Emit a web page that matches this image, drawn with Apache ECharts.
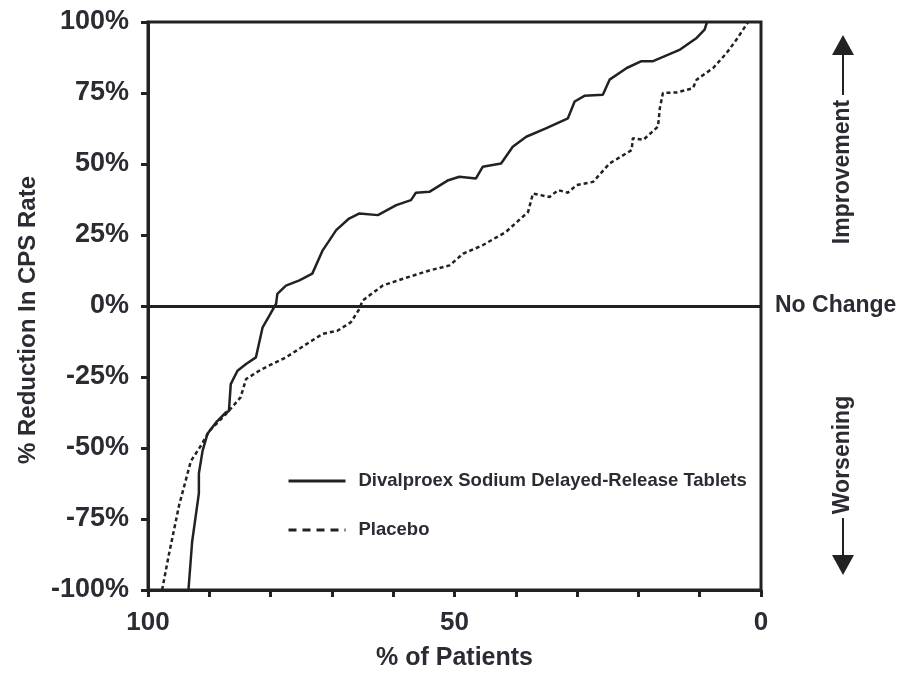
<!DOCTYPE html>
<html><head><meta charset="utf-8">
<script src="https://cdn.jsdelivr.net/npm/echarts@6/dist/echarts.min.js"></script>
<style>html,body{margin:0;padding:0;background:#fff}#c{width:899px;height:675px}</style>
</head><body><div id="c"></div>
<script>
// % of patients (x) and % reduction in CPS rate (y)
const divalproexX = [93.4,92.8,91.7,91.7,91.1,90.3,88.9,87.3,86.8,86.5,85.4,84.0,82.4,81.3,80.2,79.1,78.9,77.5,75.3,73.2,71.5,69.3,67.2,65.5,62.5,59.5,57.1,56.3,54.1,51.0,49.2,46.5,45.4,42.4,40.5,38.3,35.0,31.5,30.4,28.8,25.8,24.7,21.9,19.5,17.6,13.2,10.5,9.2,8.8];
const divalproexY = [-100,-83,-66,-59,-51,-45,-41,-37.5,-37,-27.5,-22.8,-20.4,-18.1,-7.5,-3.4,0.8,4.3,7.2,9.0,11.4,19.6,26.7,30.8,32.6,32.0,35.5,37.3,39.9,40.2,44.3,45.5,44.9,49.0,50.2,56.1,59.6,62.6,66.1,72.0,74.0,74.4,79.7,83.8,86.2,86.2,90.3,94.4,97.3,100];
const placeboX = [97.7,96.6,94.9,93.0,91.4,90.0,87.3,84.9,84.0,81.4,77.5,73.7,71.5,69.1,66.9,65.5,65.0,61.7,58.4,54.1,50.8,48.6,45.4,41.6,38.0,37.2,34.5,33.1,31.5,30.1,27.4,24.7,21.1,20.9,19.2,16.8,16.5,16.0,13.8,11.1,10.5,7.8,5.6,4.0,2.1];
const placeboY = [-100,-87.6,-69.9,-54.6,-49.3,-44,-38.1,-32.2,-25.7,-22.2,-18.1,-12.8,-9.8,-8.7,-5.7,-1.0,1.9,7.2,9.6,12.5,14.3,18.4,21.4,26.1,33.1,39.6,38.4,40.8,39.9,42.6,43.7,50.2,54.9,59.1,58.5,63.2,69.7,75.0,75.2,76.7,79.7,83.8,89.1,93.8,100];
const xTickLabels = [100, 50, 0];
const yTickValues = [-100,-75,-50,-25,0,25,50,75,100];
const seriesNames = ['Divalproex Sodium Delayed-Release Tablets', 'Placebo'];

const zip = (a, b) => a.map((v, i) => [v, b[i]]);
const INK = '#222';
const TXT = '#2b2b33';
const FONT = '"Liberation Sans",Arial,Helvetica,sans-serif';
const CLEAR = {color: 'rgba(0,0,0,0)', borderColor: 'rgba(0,0,0,0)', borderWidth: 0};

const chart = echarts.init(document.getElementById('c'), null, {renderer: 'canvas'});
chart.setOption({
  animation: false,
  backgroundColor: '#fff',
  grid: {left: 148, right: 138, top: 22, bottom: 85, show: true, borderColor: INK, borderWidth: 3,
    containLabel: false, outerBoundsMode: 'none'},
  xAxis: {
    type: 'value', min: 0, max: 100, interval: 10, inverse: true,
    axisLine: {show: true, onZero: false, lineStyle: {color: INK, width: 3}},
    axisTick: {show: true, inside: false, length: 7, lineStyle: {color: INK, width: 3}},
    splitLine: {show: false},
    axisLabel: {
      margin: 20, fontSize: 26, fontWeight: 'bold', color: TXT, fontFamily: FONT,
      formatter: v => (xTickLabels.indexOf(v) >= 0 ? String(v) : '')
    },
    name: '% of Patients', nameLocation: 'middle', nameGap: 56,
    nameTextStyle: {fontSize: 25, fontWeight: 'bold', color: TXT, fontFamily: FONT}
  },
  yAxis: {
    type: 'value', min: -100, max: 100, interval: 25,
    axisLine: {show: true, onZero: false, lineStyle: {color: INK, width: 3}},
    axisTick: {show: true, inside: false, length: 7, lineStyle: {color: INK, width: 3}},
    splitLine: {show: false},
    axisLabel: {
      margin: 19, fontSize: 27, fontWeight: 'bold', color: TXT, fontFamily: FONT,
      formatter: v => (yTickValues.indexOf(v) >= 0 ? v + '%' : '')
    },
    name: '% Reduction In CPS Rate', nameLocation: 'middle', nameGap: 101, nameRotate: 90,
    nameTextStyle: {fontSize: 24, fontWeight: 'bold', color: TXT, fontFamily: FONT, padding: [0, 28, 0, 0]}
  },
  legend: {
    orient: 'vertical', left: 287, top: 471, padding: 0, itemWidth: 57, itemHeight: 14, itemGap: 29,
    itemStyle: CLEAR,
    textStyle: {fontSize: 18.5, lineHeight: 20, fontWeight: 'bold', color: TXT, fontFamily: FONT, padding: [0, 0, 0, 8]},
    data: [
      {name: seriesNames[0], itemStyle: CLEAR, lineStyle: {width: 3, type: 'solid', color: INK}},
      {name: seriesNames[1], itemStyle: CLEAR, lineStyle: {width: 3, type: [8, 6], color: INK}}
    ]
  },
  series: [
    {
      name: seriesNames[0], type: 'line', data: zip(divalproexX, divalproexY),
      symbol: 'none', showSymbol: false,
      lineStyle: {color: INK, width: 2.5}, itemStyle: {color: INK},
      markLine: {
        silent: true, symbol: 'none', animation: false,
        lineStyle: {color: INK, width: 3, type: 'solid'},
        label: {show: true, position: 'start', formatter: 'No Change', distance: 14,
          fontSize: 23, fontWeight: 'bold', color: TXT, fontFamily: FONT},
        data: [{yAxis: 0}]
      }
    },
    {
      name: seriesNames[1], type: 'line', data: zip(placeboX, placeboY),
      symbol: 'none', showSymbol: false,
      lineStyle: {color: INK, width: 2.5, type: [4, 3]}, itemStyle: {color: INK}
    }
  ],
  graphic: [
    {type: 'text', x: 843, y: 172, rotation: Math.PI / 2,
      style: {text: 'Improvement', align: 'center', verticalAlign: 'middle', fontSize: 23, fontWeight: 'bold', fill: TXT, fontFamily: FONT}},
    {type: 'line', shape: {x1: 843, y1: 53, x2: 843, y2: 95}, style: {stroke: INK, lineWidth: 2}},
    {type: 'polygon', shape: {points: [[843, 35], [832, 55], [854, 55]]}, style: {fill: INK}},
    {type: 'text', x: 843, y: 455, rotation: Math.PI / 2,
      style: {text: 'Worsening', align: 'center', verticalAlign: 'middle', fontSize: 23, fontWeight: 'bold', fill: TXT, fontFamily: FONT}},
    {type: 'line', shape: {x1: 843, y1: 518, x2: 843, y2: 558}, style: {stroke: INK, lineWidth: 2}},
    {type: 'polygon', shape: {points: [[843, 575], [832, 555], [854, 555]]}, style: {fill: INK}}
  ]
});
</script></body></html>
